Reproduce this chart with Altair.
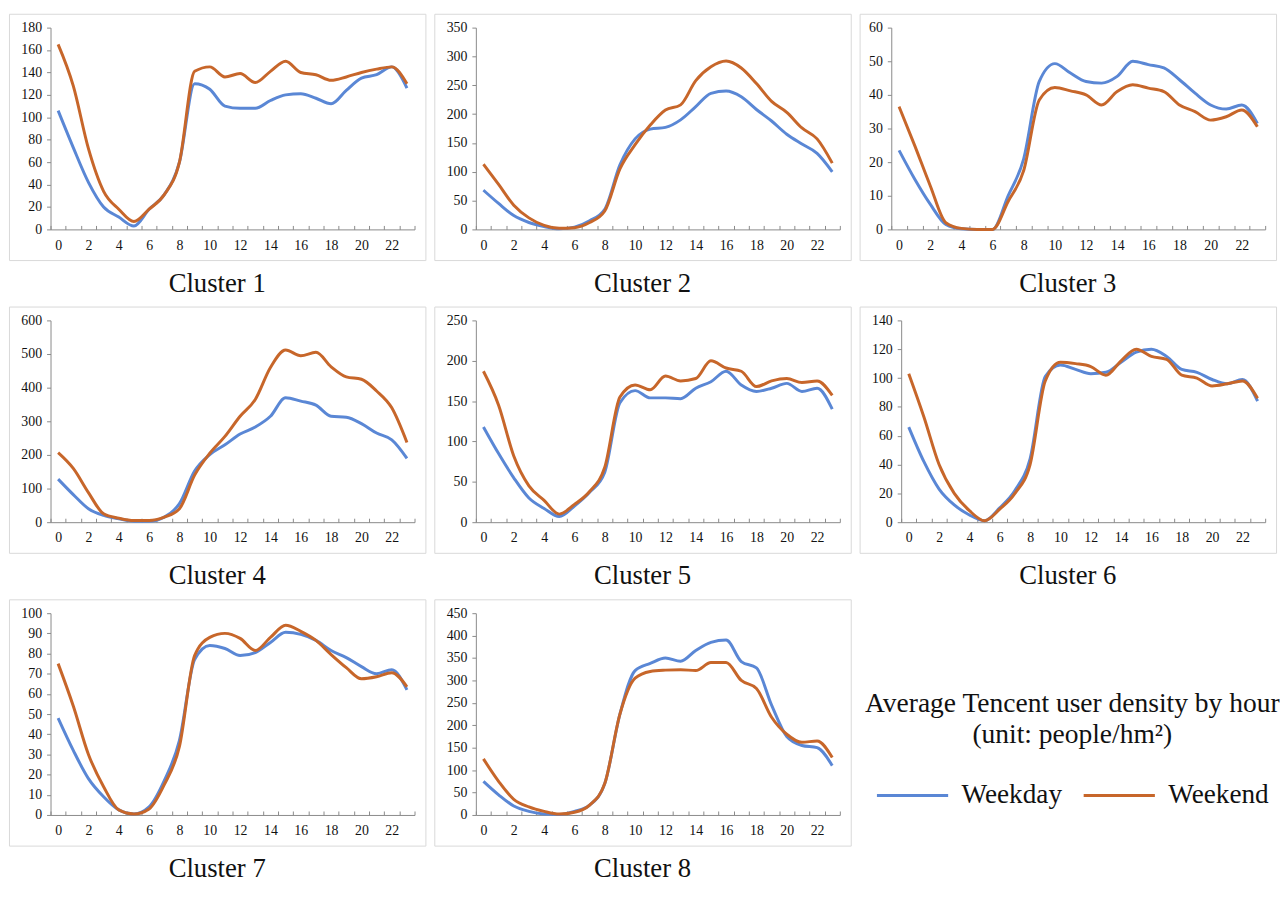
import altair as alt
import pandas as pd

hours = list(range(24))
series_names = ["Weekday", "Weekend"]
cluster_names = ["Cluster 1", "Cluster 2", "Cluster 3", "Cluster 4",
                 "Cluster 5", "Cluster 6", "Cluster 7", "Cluster 8"]

c1_weekday = [106, 73, 42, 20, 11, 3, 18, 31, 60, 130, 125, 110, 108, 108, 115, 120, 121, 117, 112, 124, 135, 138, 145, 126]
c1_weekend = [165, 128, 72, 34, 18, 7, 18, 31, 60, 141, 145, 136, 139, 131, 141, 150, 140, 138, 133, 136, 140, 143, 145, 130]
c2_weekday = [68, 45, 24, 12, 5, 1, 4, 15, 35, 112, 157, 174, 177, 190, 213, 236, 240, 230, 208, 188, 165, 148, 132, 100]
c2_weekend = [113, 78, 42, 20, 7, 2, 3, 12, 32, 105, 147, 181, 207, 216, 258, 282, 292, 280, 253, 222, 203, 176, 157, 115]
c3_weekday = [23.5, 15, 7.5, 1.5, 0.2, 0, 0, 10, 21, 44, 49.3, 46.5, 44, 43.5, 45.5, 50, 49, 48, 44.5, 40.5, 37, 35.8, 37, 31.5]
c3_weekend = [36.5, 25, 13, 2, 0.3, 0, 0, 8.3, 17.5, 38.5, 42.2, 41.2, 40, 37, 41, 43, 42, 41, 37, 35, 32.5, 33.5, 35.5, 30.5]
c4_weekday = [128, 82, 40, 20, 10, 3, 3, 15, 55, 152, 201, 230, 262, 283, 315, 370, 360, 348, 315, 312, 293, 265, 245, 190]
c4_weekend = [207, 160, 88, 25, 12, 5, 5, 15, 40, 140, 205, 255, 315, 365, 460, 512, 495, 505, 462, 432, 425, 390, 340, 237]
c5_weekday = [118, 85, 55, 30, 17, 7, 20, 37, 62, 148, 163, 154, 154, 153, 166, 174, 187, 170, 162, 166, 172, 162, 166, 140]
c5_weekend = [187, 145, 82, 45, 27, 10, 22, 38, 68, 155, 170, 164, 181, 175, 178, 200, 191, 187, 168, 175, 178, 173, 175, 157]
c6_weekday = [66, 42, 23, 12, 5, 1, 10, 22, 44, 101, 109, 106, 103, 104, 111, 118, 120, 115, 106, 104, 99, 96, 99, 84]
c6_weekend = [103, 73, 40, 20, 8, 1, 9, 20, 40, 98, 111, 110, 108, 102, 112, 120, 115, 113, 102, 100, 94.5, 96, 98, 86]
c7_weekday = [48, 32, 18, 9, 2.5, 0.5, 4, 17, 37, 77, 84, 82.5, 79, 80.5, 85.5, 90.5, 89.5, 86.5, 81.5, 78, 73.5, 70, 72, 62]
c7_weekend = [75, 54, 30, 14, 2.5, 0.5, 3, 15, 34, 79, 88, 90, 87.5, 81.5, 88, 94, 91, 86.5, 79.5, 73, 67.5, 68.5, 70.5, 63.5]
c8_weekday = [75, 45, 20, 8, 2, 1, 8, 22, 70, 225, 322, 338, 350, 343, 367, 385, 390, 342, 328, 245, 175, 155, 150, 110]
c8_weekend = [125, 75, 35, 18, 8, 2, 6, 22, 70, 225, 305, 320, 323, 324, 322, 340, 340, 300, 282, 218, 180, 162, 165, 128]

y_max = [180, 350, 60, 600, 250, 140, 100, 450]
y_step = [20, 50, 10, 100, 50, 20, 10, 50]

weekday = [c1_weekday, c2_weekday, c3_weekday, c4_weekday, c5_weekday, c6_weekday, c7_weekday, c8_weekday]
weekend = [c1_weekend, c2_weekend, c3_weekend, c4_weekend, c5_weekend, c6_weekend, c7_weekend, c8_weekend]

legend_title = ["Average Tencent user density by hour", "(unit: people/hm\u00b2)"]

BLUE = "#5A87D5"
ORANGE = "#C7662A"
AXIS_GRAY = "#8a8a8a"
FONT = "Liberation Serif"
TXT = "#111111"

W, H = 421, 249
Y_ZERO, Y_TOP = 218, 14
X_RIGHT = 410


def panel(i):
    df = pd.DataFrame({
        "hour": hours * 2,
        "series": [series_names[0]] * 24 + [series_names[1]] * 24,
        "value": weekday[i] + weekend[i],
    })
    left = 32 if y_max[i] < 100 else 42
    xscale = alt.Scale(domain=[-0.5, 23.5], range=[left, X_RIGHT], nice=False, zero=False)
    yscale = alt.Scale(domain=[0, y_max[i]], range=[Y_ZERO, Y_TOP], nice=False, zero=True)
    lines = alt.Chart(df).mark_line(strokeWidth=3, interpolate="monotone").encode(
        x=alt.X("hour:Q", scale=xscale,
                axis=alt.Axis(values=list(range(0, 23, 2)), ticks=False, tickSize=0,
                              domain=True, grid=False, title=None, orient="bottom",
                              offset=-(H - Y_ZERO), labelPadding=9, labelFlush=False,
                              labelFont=FONT, labelFontSize=14, labelColor=TXT)),
        y=alt.Y("value:Q", scale=yscale,
                axis=alt.Axis(values=list(range(0, y_max[i] + 1, y_step[i])), tickSize=4,
                              grid=False, title=None, orient="left", offset=-left,
                              labelPadding=5, labelFlush=False,
                              labelFont=FONT, labelFontSize=14, labelColor=TXT)),
        color=alt.Color("series:N",
                        scale=alt.Scale(domain=series_names, range=[BLUE, ORANGE]),
                        legend=alt.Legend(title=legend_title)),
    )
    ticks = alt.Chart(df).mark_rule(opacity=0).encode(
        x=alt.X("hour:Q", scale=xscale,
                axis=alt.Axis(values=[h - 0.5 for h in range(25)], labels=False, domain=False,
                              ticks=True, tickSize=4, grid=False, title=None, orient="bottom",
                              offset=-(H - Y_ZERO) - 4)),
    )
    return alt.layer(lines, ticks).resolve_axis(x="independent").properties(
        width=W, height=H,
        title=alt.TitleParams(cluster_names[i], orient="bottom", anchor="middle", font=FONT,
                              fontSize=27, fontWeight="normal", color=TXT, offset=11),
    )


panels = [panel(i) for i in range(8)]
row1 = alt.hconcat(panels[0], panels[1], panels[2], spacing=7)
row2 = alt.hconcat(panels[3], panels[4], panels[5], spacing=7)
row3 = alt.hconcat(panels[6], panels[7], spacing=7)

chart = alt.vconcat(row1, row2, row3, spacing=8).properties(
    padding={"left": 0, "top": 0, "right": 0, "bottom": 0}
).configure_view(
    stroke="#d9d9d9", strokeWidth=1
).configure_axis(
    domainColor=AXIS_GRAY, tickColor=AXIS_GRAY, domainWidth=1, tickWidth=1,
    labelFont=FONT, labelFontSize=14, labelColor=TXT
).configure_legend(
    orient="none", legendX=865, legendY=684, direction="horizontal",
    symbolType="stroke", symbolSize=5184, symbolStrokeWidth=3,
    labelFont=FONT, labelFontSize=27.5, labelColor=TXT, labelOffset=12,
    titleFont=FONT, titleFontSize=27.8, titleFontWeight="normal", titleColor=TXT,
    titleAnchor="middle", titleAlign="center", titleLineHeight=31, titlePadding=10,
    columnPadding=15, titleLimit=600, labelLimit=300
)

chart.save("out.html", embed_options={"renderer": "svg", "actions": False})
